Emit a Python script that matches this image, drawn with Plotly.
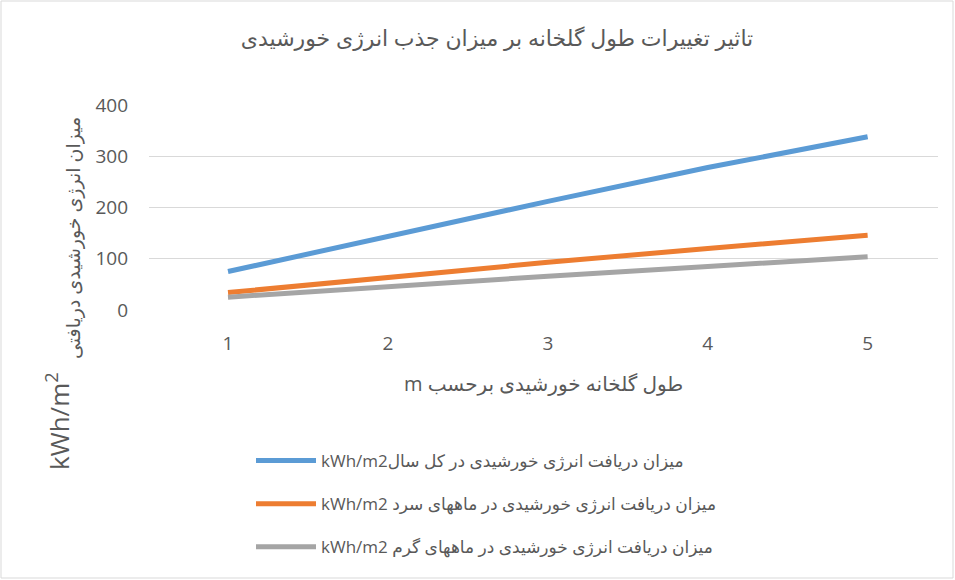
import plotly.graph_objects as go

# ---- data ----
lengths = [1, 2, 3, 4, 5]
annual = [75, 144, 212, 278, 338]
cold = [34, 64, 93, 120, 146]
warm = [25, 46, 66, 85, 104]
series_names = [
    "kWh/m2میزان دریافت انرژی خورشیدی در کل سال",
    "kWh/m2 میزان دریافت انرژی خورشیدی در ماههای سرد",
    "kWh/m2 میزان دریافت انرژی خورشیدی در ماههای گرم",
]
y_ticks = [0, 100, 200, 300, 400]
title_text = "تاثیر تغییرات طول گلخانه بر میزان جذب انرژی خورشیدی"
x_title = "m طول گلخانه خورشیدی برحسب"
y_title_fa = "میزان انرژی خورشیدی دریافتی"
y_title_unit = "kWh/m<sup>2</sup>"

W, H = 955, 580
L, R, T, B = 149, 938, 105, 310  # plot area in pixels


def px(x):
    return (x - L) / (R - L)


def py(y):
    return (B - y) / (B - T)


FONT = "Open Sans, DejaVu Sans, sans-serif"
GREY = "#595959"
colors = ["#5b9bd5", "#ed7d31", "#a5a5a5"]

fig = go.Figure()
for i, (vals, name) in enumerate(zip([annual, cold, warm], series_names)):
    fig.add_trace(go.Scatter(
        x=lengths, y=vals, mode="lines", name=name,
        line=dict(color=colors[i], width=5),
        legendgroup=f"g{i}",
    ))

fig.update_layout(
    width=W, height=H,
    margin=dict(l=L, r=W - R, t=T, b=H - B),
    paper_bgcolor="white", plot_bgcolor="white",
    font=dict(family=FONT, color=GREY),
    title=dict(text=title_text, x=497 / W, xanchor="center", y=1 - 38 / H,
               yanchor="middle", font=dict(size=22, color=GREY)),
    showlegend=True,
    legend=dict(x=px(251), y=py(443), xanchor="left", yanchor="top",
                font=dict(size=17, color=GREY), tracegroupgap=18, itemwidth=60,
                bgcolor="rgba(0,0,0,0)"),
    xaxis=dict(range=[0.506, 5.44], tickvals=lengths, ticktext=[str(v) for v in lengths],
               showgrid=False, zeroline=False, showline=False, ticks="",
               tickfont=dict(size=19, color=GREY), ticklabelstandoff=20),
    yaxis=dict(range=[0, 400], tickvals=y_ticks, showgrid=True, gridcolor="#d9d9d9",
               gridwidth=1.3, zeroline=False, showline=False, ticks="",
               tickfont=dict(size=19, color=GREY), ticklabelstandoff=20),
    annotations=[
        dict(text=x_title, x=px(543), y=py(383), xref="paper", yref="paper",
             showarrow=False, font=dict(size=20, color=GREY), xanchor="center", yanchor="middle"),
        dict(text=y_title_fa, x=px(73), y=py(238), xref="paper", yref="paper",
             showarrow=False, textangle=-90, font=dict(size=19, color=GREY),
             xanchor="center", yanchor="middle"),
        dict(text=y_title_unit, x=px(58), y=py(421), xref="paper", yref="paper",
             showarrow=False, textangle=-90, font=dict(size=26, color=GREY),
             xanchor="center", yanchor="middle"),
    ],
    shapes=[dict(type="rect", xref="paper", yref="paper",
                 x0=px(1), x1=px(953), y0=py(578), y1=py(1),
                 line=dict(color="#d9d9d9", width=1), fillcolor="rgba(0,0,0,0)", layer="below")],
)

fig.write_html("out.html", config={"displayModeBar": False},
               post_script="document.body.style.margin='0';")
